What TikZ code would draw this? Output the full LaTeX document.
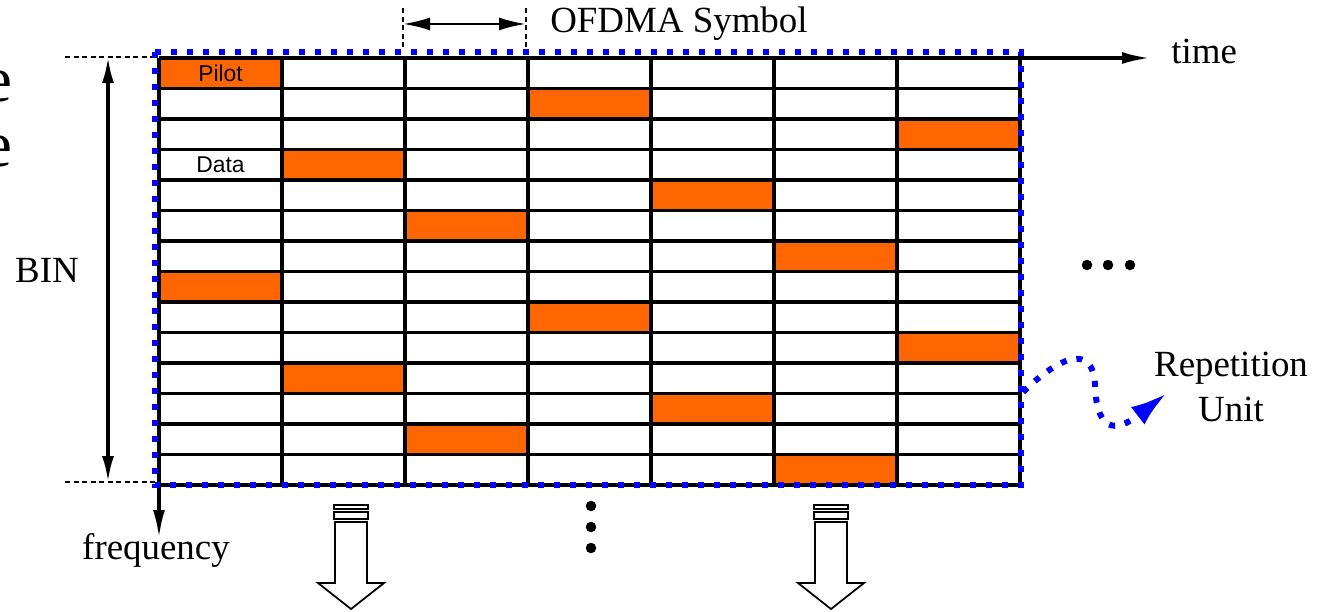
\documentclass[tikz,border=0pt]{standalone}
\usepackage{fontspec}
\setmainfont{Liberation Serif}
\newfontfamily\cellfont{Liberation Sans}
\usetikzlibrary{
  arrows.meta,
  calc
}
\definecolor{pilotorange}{RGB}{255,102,0}
\definecolor{unitblue}{RGB}{0,0,255}
\tikzset{
  gridline/.style={line width=1.9pt,draw=black},
  axisarrow/.style={-{Latex[length=5.6mm,width=2.4mm]},line width=1.9pt},
  binarrow/.style={
    {Latex[length=5.2mm,width=2.4mm]}-{Latex[length=5.2mm,width=2.4mm]},
    line width=1.9pt
  },
  symarrow/.style={
    {Latex[length=5.4mm,width=2.6mm]}-{Latex[length=5.4mm,width=2.6mm]},
    line width=1.4pt
  },
  guide/.style={line width=0.9pt,dash pattern=on 1mm off 0.7mm},
  unitbox/.style={draw=unitblue,line width=3.4pt,dash pattern=on 1.2mm off 2mm},
  reparrow/.style={
    draw=unitblue,
    line width=3.4pt,
    dash pattern=on 1.2mm off 2mm,
    -{Latex[length=7.4mm,width=4.4mm]}
  },
  blockarrow/.style={draw=black,line width=1pt,fill=white},
  biglabel/.style={font=\fontsize{21}{25.6}\selectfont,inner sep=0pt},
  cutlabel/.style={font=\fontsize{37}{40}\selectfont,inner sep=0pt,anchor=base east},
  celllabel/.style={font=\cellfont\fontsize{13}{15}\selectfont,inner sep=0pt}
}

\begin{document}
\begin{tikzpicture}[x=0.2mm,y=-0.2mm]
  \useasboundingbox (0,0) rectangle (1327,611);

  % text cut off at the left edge
  \node[cutlabel] (cutA) at (13,101) {e};
  \node[cutlabel] (cutB) at (13,166) {e};

  % pilot cells, then the grid on top
  \foreach \r/\c in {0/0,1/3,2/6,3/1,4/4,5/2,6/5,7/0,8/3,9/6,10/1,11/4,12/2,13/5}
    \fill[pilotorange] ({159+123*\c},{58+30.5*\r}) rectangle ++(123,30.5);
  \foreach \c in {1,...,7}
    \draw[gridline] ({159+123*\c},58) -- ++(0,427);
  \foreach \r in {1,...,14}
    \draw[gridline] (159,{58+30.5*\r}) -- ++(861,0);
  \node[celllabel] (pilot) at (220.5,73.3) {Pilot};
  \node[celllabel] (data) at (220.5,165) {Data};

  % axes
  \coordinate (origin) at (159,58);
  \coordinate (timeend) at (1150,58);
  \coordinate (freqend) at (159,538);
  \draw[axisarrow] (origin) -- (timeend);
  \draw[axisarrow] (origin) -- (freqend);
  \node[biglabel,anchor=base west] (time) at (1171,63) {time};
  \node[biglabel,anchor=base] (freq) at (156,559) {frequency};

  % bin height
  \coordinate (guideTL) at (65,57);
  \coordinate (guideTR) at (157,57);
  \coordinate (guideBL) at (65,482);
  \coordinate (guideBR) at (157,482);
  \coordinate (binTop) at (108,57);
  \coordinate (binBot) at (108,482);
  \draw[guide] (guideTL) -- (guideTR);
  \draw[guide] (guideBL) -- (guideBR);
  \draw[binarrow] (binTop) -- (binBot);
  \node[biglabel,anchor=base] (bin) at (47,282) {BIN};

  % one OFDMA symbol
  \coordinate (symTL) at (403,8);
  \coordinate (symBL) at (403,50);
  \coordinate (symTR) at (526,8);
  \coordinate (symBR) at (526,50);
  \draw[guide] (symTL) -- (symBL);
  \draw[guide] (symTR) -- (symBR);
  \draw[symarrow] ($(symTL)!0.38!(symBL)$) -- ($(symTR)!0.38!(symBR)$);
  \node[biglabel,anchor=base] (ofdma) at (679,32) {OFDMA Symbol};

  % continuation dots
  \foreach \y in {506,527,548}
    \fill (591,\y) circle (1.05mm);
  \foreach \x in {1087,1108,1130}
    \fill (\x,265) circle (1.05mm);

  % hollow arrows below
  \foreach \cx in {351,831} {
    \draw[blockarrow] ({\cx-17},505) rectangle ({\cx+17},509);
    \draw[blockarrow] ({\cx-17},512) rectangle ({\cx+17},519);
    \draw[blockarrow] ({\cx-16},522) -- ({\cx+16},522) -- ({\cx+16},583)
      -- ({\cx+33},583) -- (\cx,609) -- ({\cx-33},583) -- ({\cx-16},583) -- cycle;
  }

  % repetition unit
  \draw[unitbox] (155,52) rectangle (1021,485);
  \node[biglabel,align=center,anchor=north] (unit) at (1231,352) {Repetition\\Unit};
  \coordinate (repStart) at (1023,392);
  \coordinate (repTip) at (1167,393);
  \draw[reparrow] (repStart) .. controls (1060,356) and (1093,343) .. (1095,385)
    .. controls (1097,440) and (1122,428) .. (repTip);
\end{tikzpicture}
\end{document}
